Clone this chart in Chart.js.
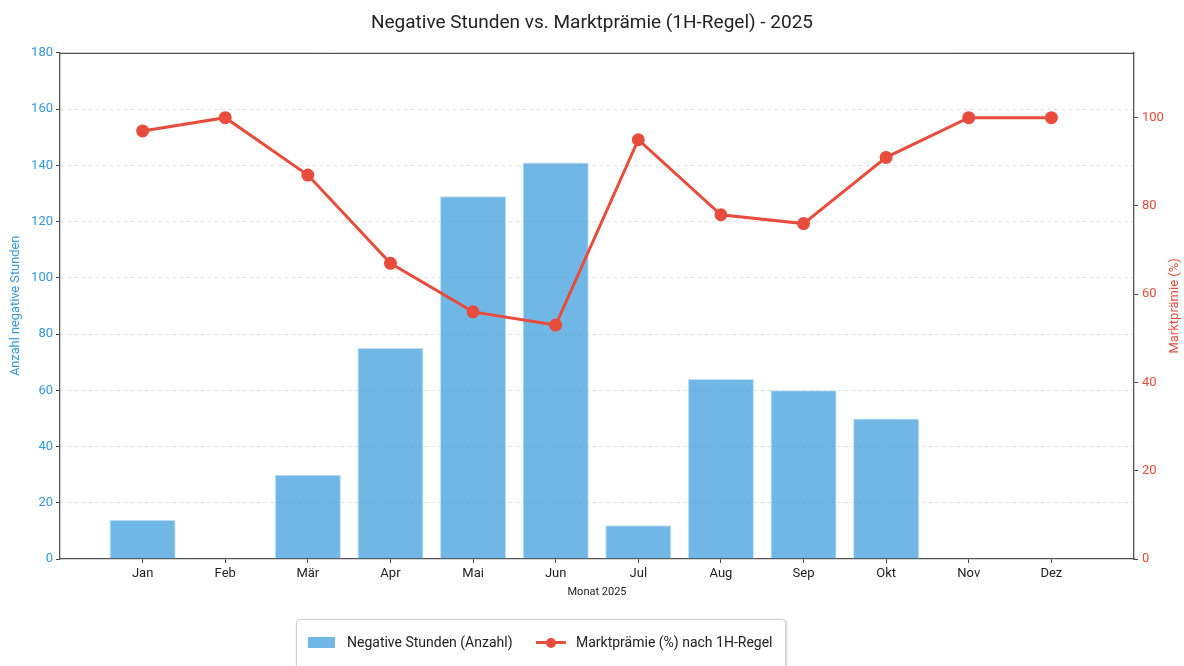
<!DOCTYPE html>
<html>
<head>
<meta charset="utf-8">
<script src="https://cdn.jsdelivr.net/npm/chart.js@4.4.0/dist/chart.umd.min.js"></script>
<style>
	body { margin: 0; background: #fff; font-family: Roboto, "DejaVu Sans", sans-serif; }
	#wrap { position: relative; width: 1184px; height: 666px; overflow: hidden; }
	#legend-container {
		position: absolute; left: 296px; top: 619px; width: 490px; height: 70px;
		border: 1px solid #cfcfcf; border-radius: 4px; box-shadow: 1px 1px 3px rgba(0,0,0,0.18);
		background: #fff; box-sizing: border-box;
	}
	.lg-item { position: absolute; top: 12px; font-size: 14px; color: #222; line-height: 20px; white-space: nowrap; }
	.lg-box { position: absolute; width: 27px; height: 11px; top: 5px; left: 0; background: rgba(52,152,219,0.7); }
	.lg-line { position: absolute; width: 30px; height: 3px; top: 9px; left: 0; background: #e74c3c; }
	.lg-dot { position: absolute; width: 10px; height: 10px; top: 5.5px; left: 10px; border-radius: 50%; background: #e74c3c; }
</style>
</head>
<body>
<div id="wrap">
	<canvas id="comboChart" width="1184" height="666"></canvas>
	<div id="legend-container">
		<div class="lg-item" style="left: 11px;"><span class="lg-box"></span><span style="margin-left: 39px;">Negative Stunden (Anzahl)</span></div>
		<div class="lg-item" style="left: 239px;"><span class="lg-line"></span><span class="lg-dot"></span><span style="margin-left: 40px;">Marktprämie (%) nach 1H-Regel</span></div>
	</div>
</div>
<script>
let months = ["Jan", "Feb", "Mär", "Apr", "Mai", "Jun", "Jul", "Aug", "Sep", "Okt", "Nov", "Dez"];
let negHours = [14, 0, 30, 75, 129, 141, 12, 64, 60, 50, 0, 0];
let marketPremium = [97, 100, 87, 67, 56, 53, 95, 78, 76, 91, 100, 100];
let leftTicks = [0, 20, 40, 60, 80, 100, 120, 140, 160, 180];
let rightTicks = [0, 20, 40, 60, 80, 100];

const blue = "#3498db";
const red = "#e74c3c";
const fontFamily = "Roboto, 'DejaVu Sans', sans-serif";

// top spine of the plot frame + right axis title (reads bottom to top, like the left one)
const frameExtras = {
	id: "frameExtras",
	afterDraw(chart) {
		const { ctx, chartArea } = chart;
		ctx.save();
		ctx.strokeStyle = "#222";
		ctx.lineWidth = 1;
		ctx.beginPath();
		ctx.moveTo(chartArea.left, chartArea.top + 0.5);
		ctx.lineTo(chartArea.right, chartArea.top + 0.5);
		ctx.stroke();

		ctx.translate(1175, (chartArea.top + chartArea.bottom) / 2);
		ctx.rotate(-Math.PI / 2);
		ctx.fillStyle = red;
		ctx.font = "13px " + fontFamily;
		ctx.textAlign = "center";
		ctx.textBaseline = "middle";
		ctx.fillText("Marktprämie (%)", 0, 0);
		ctx.restore();
	},
};

let barData = {
	type: "bar",
	label: "Negative Stunden (Anzahl)",
	data: negHours.map((v, i) => ({ x: i, y: v })),
	backgroundColor: "rgba(52,152,219,0.7)",
	borderColor: "rgba(190,222,245,0.9)",
	borderWidth: 1,
	barPercentage: 0.8,
	categoryPercentage: 1.0,
	yAxisID: "y",
	order: 2,
};

let lineData = {
	type: "line",
	label: "Marktprämie (%) nach 1H-Regel",
	data: marketPremium.map((v, i) => ({ x: i, y: v })),
	borderColor: red,
	backgroundColor: red,
	borderWidth: 3,
	pointRadius: 5,
	pointHoverRadius: 5,
	lineTension: 0,
	fill: false,
	yAxisID: "y1",
	order: 1,
};

let chartOptions = {
	responsive: false,
	animation: false,
	devicePixelRatio: 1,
	layout: { padding: { left: 0, right: 0, top: 0, bottom: 62 } },
	plugins: {
		legend: { display: false },
		tooltip: { enabled: false },
		title: {
			display: true,
			text: "Negative Stunden vs. Marktprämie (1H-Regel) - 2025",
			color: "#222",
			font: { family: fontFamily, size: 19, weight: "normal" },
			padding: { top: 12, bottom: 18 },
		},
	},
	scales: {
		x: {
			type: "linear",
			min: -1,
			max: 12,
			offset: false,
			afterBuildTicks: (scale) => {
				scale.ticks = months.map((m, i) => ({ value: i }));
			},
			afterFit: (scale) => { scale.height = 45; },
			ticks: {
				callback: (v) => months[v],
				color: "#222",
				font: { family: fontFamily, size: 13 },
				padding: 3,
				maxRotation: 0,
				autoSkip: false,
			},
			grid: { offset: false, drawOnChartArea: false, drawTicks: true, tickLength: 4, tickColor: "#444" },
			border: { display: true, color: "#555", width: 1.3 },
			title: {
				display: true,
				text: "Monat 2025",
				color: "#222",
				font: { family: fontFamily, size: 11 },
				padding: { top: 0, bottom: 5 },
			},
		},
		y: {
			position: "left",
			min: 0,
			max: 180,
			afterBuildTicks: (scale) => {
				scale.ticks = leftTicks.map((v) => ({ value: v }));
			},
			afterFit: (scale) => { scale.width = 60; },
			ticks: {
				color: blue,
				font: { family: fontFamily, size: 13 },
				padding: 3,
			},
			grid: {
				color: (c) => (c.tick && (c.tick.value === 0 || c.tick.value === 180) ? "rgba(0,0,0,0)" : "#e2e2e2"),
				lineWidth: 1,
				tickLength: 4,
				tickColor: "#444",
			},
			border: { display: true, color: "#555", width: 1.3, dash: [4, 3] },
			title: {
				display: true,
				text: "Anzahl negative Stunden",
				color: blue,
				font: { family: fontFamily, size: 12.8 },
				padding: { top: 8, bottom: 0 },
			},
		},
		y1: {
			position: "right",
			min: 0,
			max: 114.7,
			afterBuildTicks: (scale) => {
				scale.ticks = rightTicks.map((v) => ({ value: v }));
			},
			afterFit: (scale) => { scale.width = 50; },
			ticks: {
				color: red,
				font: { family: fontFamily, size: 13 },
				padding: 4,
			},
			grid: { drawOnChartArea: false, tickLength: 4, tickColor: "#444" },
			border: { display: true, color: "#555", width: 1.3 },
		},
	},
};

let ctx = new Chart(document.getElementById("comboChart"), {
	data: { datasets: [barData, lineData] },
	options: chartOptions,
	plugins: [frameExtras],
});
</script>
</body>
</html>
